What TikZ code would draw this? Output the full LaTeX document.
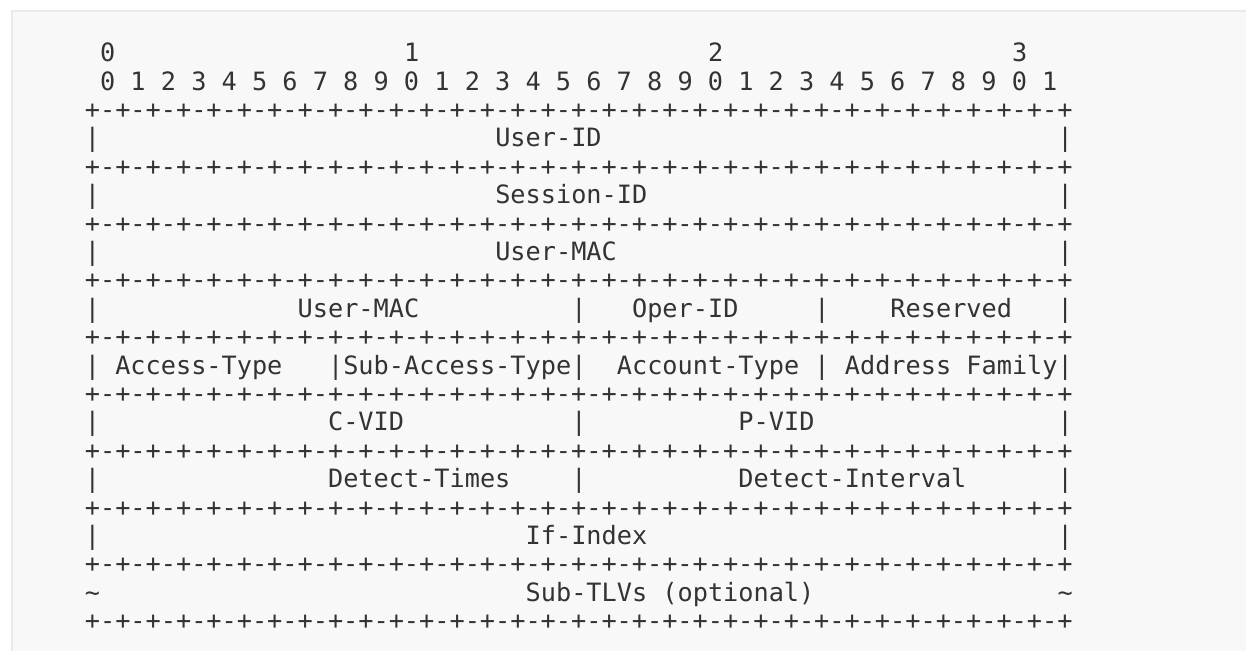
\documentclass[tikz,border=0pt]{standalone}
\usepackage{fontspec}
\newfontfamily\rfcmono{DejaVu Sans Mono}
\definecolor{ink}{HTML}{333333}
\definecolor{paper}{HTML}{F8F8F8}
\definecolor{rim}{HTML}{EAEAEA}
\newcommand{\bitrule}{+-+-+-+-+-+-+-+-+-+-+-+-+-+-+-+-+-+-+-+-+-+-+-+-+-+-+-+-+-+-+-+-+}

\begin{document}
\begin{tikzpicture}[x=7.6pt, y=-14.2pt]
   % Styles
   \tikzset{
    txt/.style={anchor=base west, inner sep=0pt, outer sep=0pt, text=ink,
                font=\rfcmono\fontsize{12.62}{14}\selectfont}
   }
  % Frame
  \clip (-5.586,-2.173) rectangle (76.39,20.75);
  \fill[paper, draw=rim, line width=1pt] (-4.796,-1.785) rectangle (80,24);
  % Bit numbers
  \node[txt] (tens0) at (1,0) {0};
  \node[txt] (tens1) at (21,0) {1};
  \node[txt] (tens2) at (41,0) {2};
  \node[txt] (tens3) at (61,0) {3};
  \node[txt] (bits) at (1,1) {0 1 2 3 4 5 6 7 8 9 0 1 2 3 4 5 6 7 8 9 0 1 2 3 4 5 6 7 8 9 0 1};
  % Rules and outer bars
  \foreach \r in {2,4,...,20}
    \node[txt] (rule\r) at (0,\r) {\bitrule};
  \foreach \r in {3,5,...,17} {
    \node[txt] (lbar\r) at (0,\r) {|};
    \node[txt] (rbar\r) at (64,\r) {|};
  }
  % Fields
  \node[txt] (userid) at (27,3) {User-ID};
  \node[txt] (sessid) at (27,5) {Session-ID};
  \node[txt] (usermac) at (27,7) {User-MAC};
  \node[txt] (usermacb) at (14,9) {User-MAC};
  \node[txt] (bar9a) at (32,9) {|};
  \node[txt] (operid) at (36,9) {Oper-ID};
  \node[txt] (bar9b) at (48,9) {|};
  \node[txt] (resv) at (53,9) {Reserved};
  \node[txt] (acctype) at (2,11) {Access-Type};
  \node[txt] (bar11a) at (16,11) {|};
  \node[txt] (subacc) at (17,11) {Sub-Access-Type};
  \node[txt] (bar11b) at (32,11) {|};
  \node[txt] (accnt) at (35,11) {Account-Type};
  \node[txt] (bar11c) at (48,11) {|};
  \node[txt] (afam) at (50,11) {Address Family};
  \node[txt] (cvid) at (16,13) {C-VID};
  \node[txt] (bar13) at (32,13) {|};
  \node[txt] (pvid) at (43,13) {P-VID};
  \node[txt] (dtimes) at (16,15) {Detect-Times};
  \node[txt] (bar15) at (32,15) {|};
  \node[txt] (dintv) at (43,15) {Detect-Interval};
  \node[txt] (ifidx) at (29,17) {If-Index};
  \node[txt] (ltil) at (0,19) {\textasciitilde};
  \node[txt] (subtlv) at (29,19) {Sub-TLVs (optional)};
  \node[txt] (rtil) at (64,19) {\textasciitilde};
\end{tikzpicture}
\end{document}
